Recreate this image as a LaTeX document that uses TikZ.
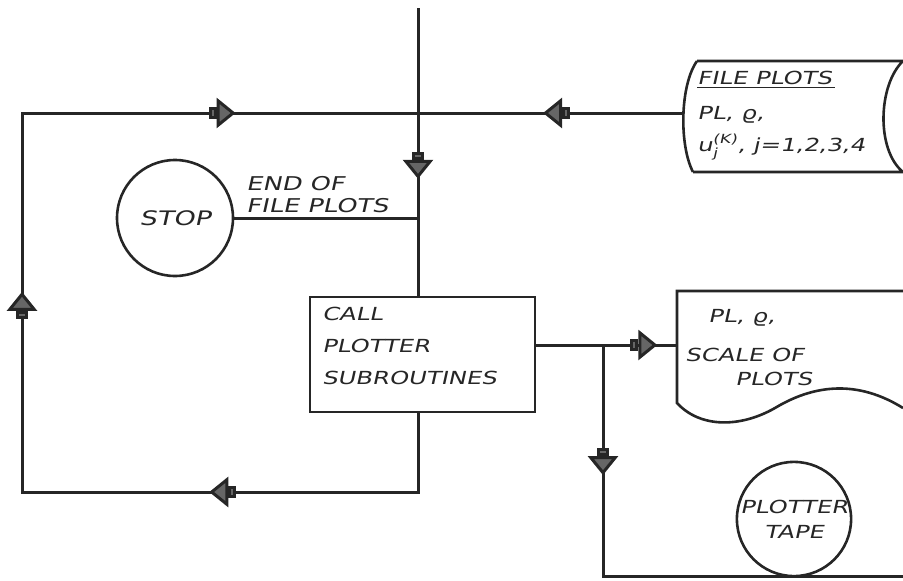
\documentclass[tikz,border=0pt]{standalone}
\usepackage{fontspec}
\usepackage{amsmath}
\usetikzlibrary{arrows.meta,decorations.markings,positioning}
\newfontfamily\hand[FakeSlant=0.22,FakeStretch=1.35]{DejaVu Sans}
\tikzset{
  flowtip/.tip={Square[length=8pt,width=12pt,fill=black!60] Triangle[length=19pt,width=30pt,fill=black!60]},
  ink/.style={draw=black!85, line width=3pt},
  blk/.style={ink, rectangle, line width=2.6pt, font=\hand\fontsize{18}{32}\selectfont, align=left, text=black!85},
  circ/.style={ink, circle, line width=2.6pt, font=\hand\fontsize{18}{25}\selectfont, align=center, inner sep=0pt, text=black!85},
  txt/.style={font=\hand\fontsize{18}{30}\selectfont, align=left, inner sep=0pt, text=black!85},
  arrat/.style={postaction={decorate, decoration={markings, mark=at position #1 with {\arrow{flowtip}}}}},
}

\begin{document}
\begin{tikzpicture}[x=1pt, y=-1pt]
\useasboundingbox (0,0) rectangle (903,581);

% junctions on the main line
\coordinate (top) at (418,8);
\coordinate (j1) at (418,113);
\coordinate (j2) at (418,218);

\node[blk, minimum width=225pt, minimum height=115pt, text width=201pt] (call) at (422.5,354.5)
  {CALL\\PLOTTER\\SUBROUTINES\\[-14pt]\mbox{}};
\node[circ, minimum size=116pt, font=\hand\fontsize{20}{25}\selectfont] (stop) at (175,218) {STOP};
\node[circ, minimum size=114pt] (tape) at (794,519) {PLOTTER\\TAPE};

\node[txt, anchor=north west, font=\hand\fontsize{19}{22}\selectfont] (eof) at (246,176) {END OF\\FILE PLOTS};

% file plots (stored data)
\draw[ink, line width=2.6pt] (697,61) -- (903,61)
  (903,61) .. controls (878,85) and (876,150) .. (903,172)
  (693,172) -- (903,172)
  (697,61) .. controls (680,85) and (679,145) .. (693,172);
\coordinate (fileL) at (683,113);
\node[txt, anchor=north west] (filet) at (697,71)
  {\underline{FILE PLOTS\,}\\[5pt]PL, ϱ,\\[2pt]$\text{u}^{\text{(K)}}_{\text{j}}$, j=1,2,3,4};

% scale of plots (document)
\draw[ink, line width=2.6pt] (903,291) -- (677,291) -- (677,403)
  .. controls (700,428) and (740,428) .. (775,408)
  .. controls (805,390) and (850,375) .. (903,408);
\coordinate (docL) at (677,345);
\node[txt, anchor=north west] (doct) at (685,309)
  {\hspace{23pt}PL, ϱ,\\[9pt]SCALE OF\\[-6pt]\hspace{50pt}PLOTS};

\coordinate (j3) at (603,345);
\coordinate (br) at (603,576);
\coordinate (brR) at (903,576);
\coordinate (bl) at (418,492);
\coordinate (bll) at (22,492);
\coordinate (tl) at (22,113);

\draw[ink] (top) -- (j1);
\draw[ink, arrat=0.528] (fileL) -- (j1);
\draw[ink, arrat=0.36] (j1) -- (j1 |- call.north);
\draw[ink] (stop.east) -- (j2);
\draw[ink, arrat=0.23, arrat=0.54, arrat=0.854] (j2 |- call.south) -- (bl) -- (bll) -- (tl) -- (j1);
\draw[ink, arrat=0.86] (call.east |- j3) -- (docL);
\draw[ink, arrat=0.245] (j3) -- (br) -- (brR);

\end{tikzpicture}
\end{document}
